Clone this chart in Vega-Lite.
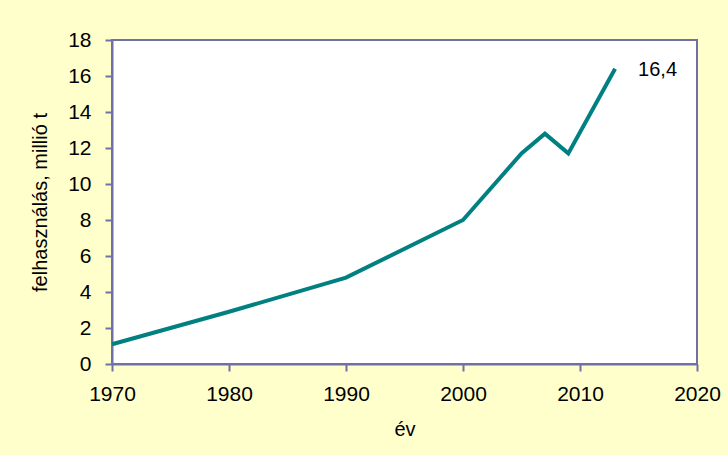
{
  "$schema": "https://vega.github.io/schema/vega-lite/v6.json",
  "autosize": {"type": "none"},
  "width": 585,
  "height": 324,
  "padding": {"left": 112, "top": 40, "right": 31, "bottom": 91},
  "background": "#FFFFCC",
  "config": {
    "font": "Liberation Sans",
    "view": {"fill": "white", "stroke": "#7070A8", "strokeWidth": 2}
  },
  "data": {
    "values": [
      {"ev": 1970, "felhasznalas": 1.1},
      {"ev": 1980, "felhasznalas": 2.9},
      {"ev": 1990, "felhasznalas": 4.8},
      {"ev": 2000, "felhasznalas": 8.0},
      {"ev": 2005, "felhasznalas": 11.7},
      {"ev": 2007, "felhasznalas": 12.8},
      {"ev": 2009, "felhasznalas": 11.7},
      {"ev": 2013, "felhasznalas": 16.4, "label": "16,4"}
    ]
  },
  "encoding": {
    "x": {
      "field": "ev",
      "type": "quantitative",
      "scale": {"domain": [1970, 2020], "nice": false, "zero": false},
      "axis": {
        "title": "év",
        "values": [1970, 1980, 1990, 2000, 2010, 2020],
        "format": "d",
        "grid": false,
        "labelFlush": false,
        "domainColor": "#7070A8",
        "domainWidth": 2,
        "tickColor": "#7070A8",
        "tickWidth": 2,
        "tickSize": 7,
        "labelFontSize": 21,
        "labelColor": "black",
        "labelPadding": 12,
        "titleFontSize": 20,
        "titleFontWeight": "normal",
        "titleColor": "black",
        "titlePadding": 15
      }
    },
    "y": {
      "field": "felhasznalas",
      "type": "quantitative",
      "scale": {"domain": [0, 18], "nice": false},
      "axis": {
        "title": "felhasználás, millió t",
        "values": [0, 2, 4, 6, 8, 10, 12, 14, 16, 18],
        "grid": false,
        "labelFlush": false,
        "domainColor": "#7070A8",
        "domainWidth": 2,
        "tickColor": "#7070A8",
        "tickWidth": 2,
        "tickSize": 7,
        "labelFontSize": 21,
        "labelColor": "black",
        "labelPadding": 14,
        "titleFontSize": 20,
        "titleFontWeight": "normal",
        "titleColor": "black",
        "titlePadding": 17
      }
    }
  },
  "layer": [
    {
      "mark": {"type": "line", "color": "#008080", "strokeWidth": 4}
    },
    {
      "transform": [{"filter": "isValid(datum.label)"}],
      "mark": {"type": "text", "align": "left", "baseline": "middle", "dx": 23, "dy": 1, "fontSize": 20, "color": "black"},
      "encoding": {"text": {"field": "label"}}
    }
  ]
}
